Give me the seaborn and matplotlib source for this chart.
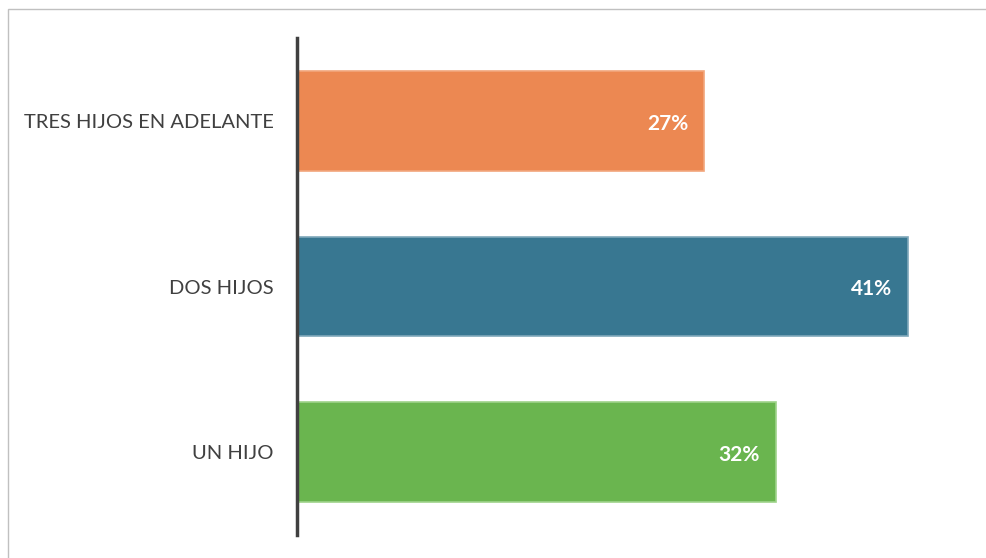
import matplotlib.pyplot as plt
import pandas as pd
import seaborn as sns
from matplotlib.patches import Rectangle

categorias = ["TRES HIJOS EN ADELANTE", "DOS HIJOS", "UN HIJO"]
porcentajes = [0.273, 0.41, 0.321]
colores = ["#EC8852", "#387791", "#6AB54F"]
bordes = ["#F2A67C", "#7FA8BA", "#9ED38A"]

df = pd.DataFrame({"Categoria": categorias, "Porcentaje": porcentajes})

sns.set_theme(style="white")
plt.rcParams["font.family"] = ["Lato", "DejaVu Sans"]

fig = plt.figure(figsize=(9.86, 5.58), dpi=100)
ax = fig.add_axes([297 / 986, 1 - 535 / 558, (968 - 297) / 986, (535 - 38) / 558])

sns.barplot(
    data=df,
    x="Porcentaje",
    y="Categoria",
    hue="Categoria",
    palette=dict(zip(categorias, colores)),
    saturation=1,
    orient="h",
    width=0.6,
    legend=False,
    ax=ax,
)

for p, ec in zip(ax.patches, bordes):
    p.set_edgecolor(ec)
    p.set_linewidth(1.2)

for i, v in enumerate(porcentajes):
    ax.annotate(
        f"{v:.0%}",
        (v, i),
        xytext=(-11.5, -2),
        textcoords="offset points",
        ha="right",
        va="center",
        color="white",
        fontsize=15,
        fontweight="bold",
    )

ax.set_xlim(0, 0.45)
ax.set_ylim(2.5, -0.5)
ax.set_xlabel("")
ax.set_ylabel("")
ax.set_xticks([])
ax.tick_params(axis="y", length=0, pad=17, labelsize=14.5, labelcolor="#404040")
for s in ["top", "right", "bottom"]:
    ax.spines[s].set_visible(False)
ax.spines["left"].set_color("#404040")
ax.spines["left"].set_linewidth(2.5)

# marco del gráfico
fig.patches.append(
    Rectangle(
        (8 / 986, -0.05),
        1.1,
        1 - 9 / 558 + 0.05,
        transform=fig.transFigure,
        fill=False,
        edgecolor="#C0C0C0",
        linewidth=1,
    )
)

plt.savefig("out.png", dpi=100)
plt.close()
